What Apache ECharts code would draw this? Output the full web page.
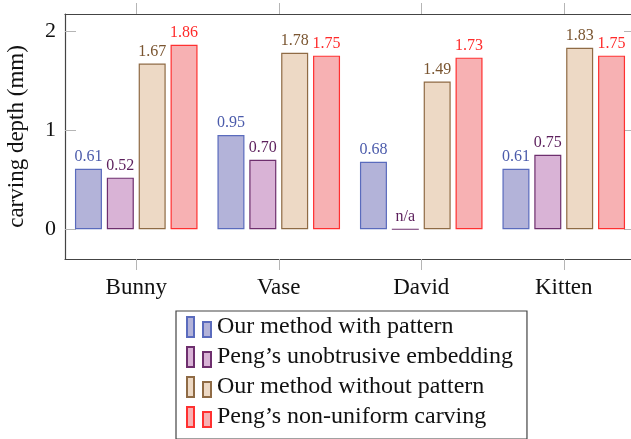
<!DOCTYPE html>
<html>
<head>
<meta charset="utf-8">
<script src="https://cdn.jsdelivr.net/npm/echarts@6/dist/echarts.min.js"></script>
<style>
  html, body { margin: 0; padding: 0; background: #fff; }
  #chart { width: 631px; height: 439px; }
</style>
</head>
<body>
<div id="chart"></div>
<script>
// Carving depth per model and method (mm); null = not available
const models = ['Bunny', 'Vase', 'David', 'Kitten'];
const withPattern = [0.61, 0.95, 0.68, 0.61];
const pengUnobtrusive = [0.52, 0.70, null, 0.75];
const withoutPattern = [1.67, 1.78, 1.49, 1.83];
const pengNonUniform = [1.86, 1.75, 1.73, 1.75];
const yTickValues = [0, 1, 2];

const FONT = 'Liberation Serif';

const styles = [
  { name: 'Our method with pattern', values: withPattern, fill: '#b3b3d9', stroke: '#5a6bbd', text: '#4b5bab' },
  { name: 'Peng\u2019s unobtrusive embedding', values: pengUnobtrusive, fill: '#d9b3d6', stroke: '#6e2f6e', text: '#5c1f5c' },
  { name: 'Our method without pattern', values: withoutPattern, fill: '#edd9c5', stroke: '#8f6b45', text: '#7a5530' },
  { name: 'Peng\u2019s non-uniform carving', values: pengNonUniform, fill: '#f7b1b3', stroke: '#ff3030', text: '#ff2a2a' }
];

// Legend glyph: a tall narrow bar followed by a shorter one
const legendIcon = 'path://M0,0 L7,0 L7,20 L0,20 Z M16,5 L24,5 L24,20 L16,20 Z';

const series = styles.map(s => ({
  name: s.name,
  type: 'bar',
  xAxisIndex: 0,
  yAxisIndex: 0,
  barWidth: 27,
  barGap: '18%',
  itemStyle: { color: s.fill, borderColor: s.stroke, borderWidth: 1.2 },
  label: {
    show: true,
    position: 'top',
    distance: 4,
    color: s.text,
    fontFamily: FONT,
    fontSize: 16,
    formatter: p => (p.data && p.data.missing) ? 'n/a' : Number(p.value).toFixed(2)
  },
  data: s.values.map(v => v === null ? { value: 0, missing: true } : v)
}));

const frame = { show: true, onZero: false, lineStyle: { color: '#444', width: 1.2 } };
const tick = { lineStyle: { color: '#b5b5b5', width: 1 }, length: 11 };

const chart = echarts.init(document.getElementById('chart'), null, { renderer: 'canvas' });
chart.setOption({
  animation: false,
  grid: { left: 65, top: 14, right: -4, bottom: 180, containLabel: false, outerBoundsMode: 'none' },
  xAxis: [
    {
      type: 'category', position: 'bottom', data: models,
      axisLine: frame,
      axisTick: Object.assign({ show: true, inside: false, alignWithLabel: true }, tick),
      axisLabel: { fontFamily: FONT, fontSize: 23, color: '#111', margin: 17 },
      splitLine: { show: false }
    },
    {
      type: 'category', position: 'top', data: models,
      axisLine: frame,
      axisTick: Object.assign({ show: true, inside: false, alignWithLabel: true }, tick),
      axisLabel: { show: false },
      splitLine: { show: false }
    }
  ],
  yAxis: [
    {
      type: 'value', position: 'left', min: -0.3, max: 2.17,
      name: 'carving depth (mm)', nameLocation: 'middle', nameGap: 37,
      nameTextStyle: { fontFamily: FONT, fontSize: 23, color: '#111' },
      axisLine: frame,
      axisTick: Object.assign({ show: true, inside: true, customValues: yTickValues }, tick),
      axisLabel: { fontFamily: FONT, fontSize: 22, color: '#111', margin: 9, customValues: yTickValues },
      splitLine: { show: false }
    },
    {
      type: 'value', position: 'right', min: -0.3, max: 2.17,
      axisLine: frame,
      axisTick: Object.assign({ show: true, inside: true, customValues: yTickValues }, tick),
      axisLabel: { show: false },
      splitLine: { show: false }
    }
  ],
  legend: {
    orient: 'vertical',
    left: 176, top: 311,
    padding: [4, 14, 10, 10],
    borderColor: '#444', borderWidth: 1.2,
    backgroundColor: '#fff',
    icon: legendIcon,
    itemWidth: 24, itemHeight: 20, itemGap: 6,
    textStyle: { fontFamily: FONT, fontSize: 24, color: '#111', padding: [0, 0, 0, 1] },
    data: styles.map(s => s.name)
  },
  series: series
});
</script>
</body>
</html>
